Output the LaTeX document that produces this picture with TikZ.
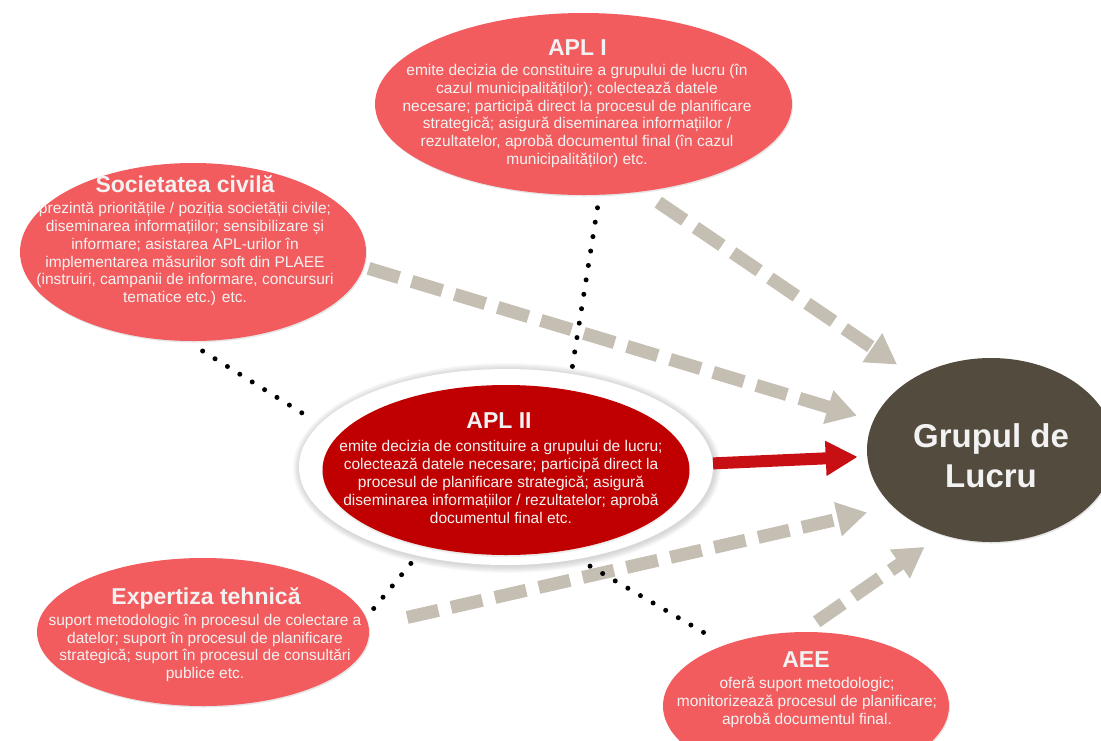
\documentclass[tikz,border=0pt]{standalone}
\usepackage{fontspec}
\setmainfont{Liberation Sans}
\usetikzlibrary{shapes.geometric,arrows.meta,shadows}
\definecolor{lightred}{RGB}{242,92,94}
\definecolor{darkred}{RGB}{192,0,0}
\definecolor{arrowred}{RGB}{200,16,20}
\definecolor{brownish}{RGB}{84,75,63}
\definecolor{sand}{RGB}{197,190,178}
\definecolor{txtwhite}{RGB}{242,242,242}
\tikzset{
  bubble/.style={ellipse, inner sep=0pt, draw=none,
    drop shadow={shadow xshift=1pt, shadow yshift=-1.5pt, opacity=0.2}},
  ttl/.style={font=\fontsize{23}{27}\selectfont\bfseries, text=txtwhite,
    inner sep=0pt, text height=16.5pt, text depth=0pt},
  body/.style={font=\fontsize{15.5}{17.9}\selectfont, text=txtwhite,
    align=center, inner sep=0pt},
  flow/.style={line width=13pt, draw=sand, dash pattern=on 32pt off 13pt,
    -{Triangle[width=33pt,length=30pt]}},
  link/.style={line width=5pt, line cap=round, dash pattern=on 0pt off 14.6pt},
}
\begin{document}
\begin{tikzpicture}[x=1pt,y=-1pt]
\useasboundingbox (0,0) rectangle (1101,740);
\node[bubble, fill=lightred, minimum width=417pt, minimum height=182pt] (apl1) at (583.5,104) {};
\node[bubble, fill=lightred, minimum width=346pt, minimum height=178pt] (civ) at (193,252) {};
\foreach \g in {1,...,7}
  \fill[black, opacity=0.025] (507,468) ellipse ({207+\g} and {98+\g});
\node[ellipse, fill=white, inner sep=0pt, minimum width=414pt, minimum height=196pt] (apl2) at (506,467) {};
\node[ellipse, fill=darkred, inner sep=0pt, minimum width=367pt, minimum height=170pt,
  drop shadow={shadow xshift=0pt, shadow yshift=-2pt, opacity=0.15}] (apl2in) at (506,470) {};
\node[bubble, fill=lightred, minimum width=332pt, minimum height=148pt] (exp) at (203,632) {};
\node[bubble, fill=lightred, minimum width=286pt, minimum height=148pt] (aee) at (806,706) {};
\node[bubble, fill=brownish, minimum width=248pt, minimum height=184pt] (grup) at (991,450) {};

\node[ttl] (apl1t) at (577.5,47) {APL I};
\node[body] (apl1b) at (577,116) {emite decizia de constituire a grupului de lucru (în\\
  cazul municipalităților); colectează datele\\
  necesare; participă direct la procesul de planificare\\
  strategică; asigură diseminarea informațiilor /\\
  rezultatelor, aprobă documentul final (în cazul\\
  municipalităților) etc.};
\node[ttl] (civt) at (185,184) {Societatea civilă};
\node[body] (civb) at (185,254) {prezintă prioritățile / poziția societății civile;\\
  diseminarea informațiilor; sensibilizare și\\
  informare; asistarea APL-urilor în\\
  implementarea măsurilor soft din PLAEE\\
  (instruiri, campanii de informare, concursuri\\
  tematice etc.) etc.};
\node[ttl] (apl2t) at (499,420) {APL II};
\node[body] (apl2b) at (501,482) {emite decizia de constituire a grupului de lucru;\\
  colectează datele necesare; participă direct la\\
  procesul de planificare strategică; asigură\\
  diseminarea informațiilor / rezultatelor; aprobă\\
  documentul final etc.};
\node[ttl] (expt) at (206,596) {Expertiza tehnică};
\node[body] (expb) at (205,648) {suport metodologic în procesul de colectare a\\
  datelor; suport în procesul de planificare\\
  strategică; suport în procesul de consultări\\
  publice etc.};
\node[ttl] (aeet) at (806,659) {AEE};
\node[body] (aeeb) at (807,702) {oferă suport metodologic;\\
  monitorizează procesul de planificare;\\
  aprobă documentul final.};
\node[font=\fontsize{33}{39.5}\selectfont\bfseries, text=txtwhite, align=center,
  inner sep=0pt] (grupt) at (991,455.5) {Grupul de\\ Lucru};

\draw[flow, shorten <=19pt, shorten >=22pt] (apl1.-56) -- (grup.136);
\draw[flow, shorten <=5pt, shorten >=17pt] (civ.-5) -- (grup.166);
\draw[flow, shorten <=39.5pt, shorten >=26.5pt] (exp.2) -- (grup.210);
\draw[flow, shorten <=17.7pt, shorten >=21.4pt] (aee.93) -- (grup.240);
\draw[line width=12pt, draw=arrowred, -{Triangle[width=33pt,length=32pt]},
  shorten >=9.4pt] (apl2.1) -- (grup.183);

\draw[link, shorten <=13pt, shorten >=6.5pt] (apl1.-80) -- (apl2.55);
\draw[link, shorten <=18.7pt, shorten >=7.2pt] (civ.-94.5) -- (apl2.167);
\draw[link, shorten <=10pt, shorten >=10pt] (apl2.-135.4) -- (exp.5.7);
\draw[link, shorten <=14pt, shorten >=24pt] (apl2.-52) -- (aee.143);
\end{tikzpicture}
\end{document}
